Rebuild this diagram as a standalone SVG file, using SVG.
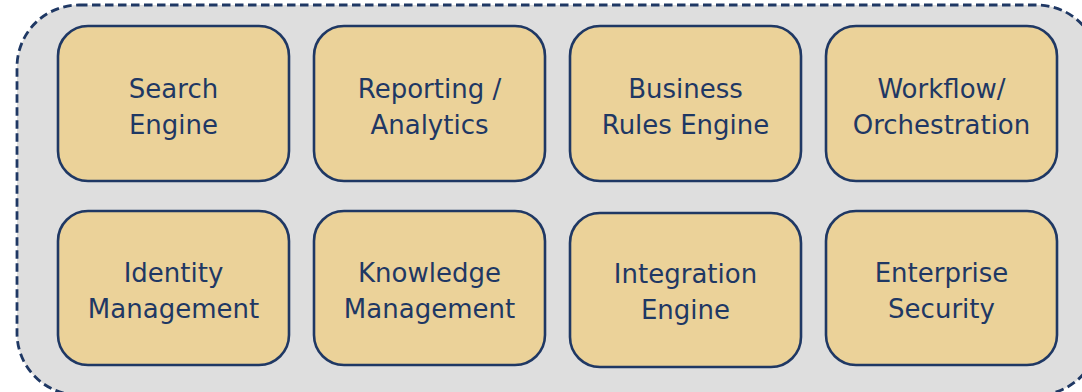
<svg xmlns="http://www.w3.org/2000/svg" width="1082" height="392" viewBox="0 0 1082 392">
<style>
.outer{fill:#dedede;stroke:#1f3864;stroke-width:2.8;stroke-dasharray:8.5 4.5}
.box{fill:#ebd299;stroke:#1f3864;stroke-width:2.6}
.lbl{font-family:"DejaVu Sans",sans-serif;font-size:26px;fill:#1f3864;text-anchor:middle}
</style>
<rect width="1082" height="392" fill="#ffffff"/>
<g id="container">
<rect class="outer" x="17" y="5" width="1082" height="390" rx="62" ry="62"/>
</g>
<g id="connectors"></g>
<g id="search-engine">
<rect class="box" x="58" y="26" width="231" height="155" rx="30"/>
<text class="lbl" x="173.5" y="98">Search</text>
<text class="lbl" x="173.5" y="134">Engine</text>
</g>
<g id="reporting-analytics">
<rect class="box" x="314" y="26" width="231" height="155" rx="30"/>
<text class="lbl" x="429.5" y="98">Reporting /</text>
<text class="lbl" x="429.5" y="134">Analytics</text>
</g>
<g id="business-rules-engine">
<rect class="box" x="570" y="26" width="231" height="155" rx="30"/>
<text class="lbl" x="685.5" y="98">Business</text>
<text class="lbl" x="685.5" y="134">Rules Engine</text>
</g>
<g id="workflow-orchestration">
<rect class="box" x="826" y="26" width="231" height="155" rx="30"/>
<text class="lbl" x="941.5" y="98">Workflow/</text>
<text class="lbl" x="941.5" y="134">Orchestration</text>
</g>
<g id="identity-management">
<rect class="box" x="58" y="211" width="231" height="154" rx="30"/>
<text class="lbl" x="173.5" y="282">Identity</text>
<text class="lbl" x="173.5" y="318">Management</text>
</g>
<g id="knowledge-management">
<rect class="box" x="314" y="211" width="231" height="154" rx="30"/>
<text class="lbl" x="429.5" y="282">Knowledge</text>
<text class="lbl" x="429.5" y="318">Management</text>
</g>
<g id="integration-engine">
<rect class="box" x="570" y="213" width="231" height="154" rx="30"/>
<text class="lbl" x="685.5" y="283">Integration</text>
<text class="lbl" x="685.5" y="319">Engine</text>
</g>
<g id="enterprise-security">
<rect class="box" x="826" y="211" width="231" height="154" rx="30"/>
<text class="lbl" x="941.5" y="282">Enterprise</text>
<text class="lbl" x="941.5" y="318">Security</text>
</g>
</svg>
